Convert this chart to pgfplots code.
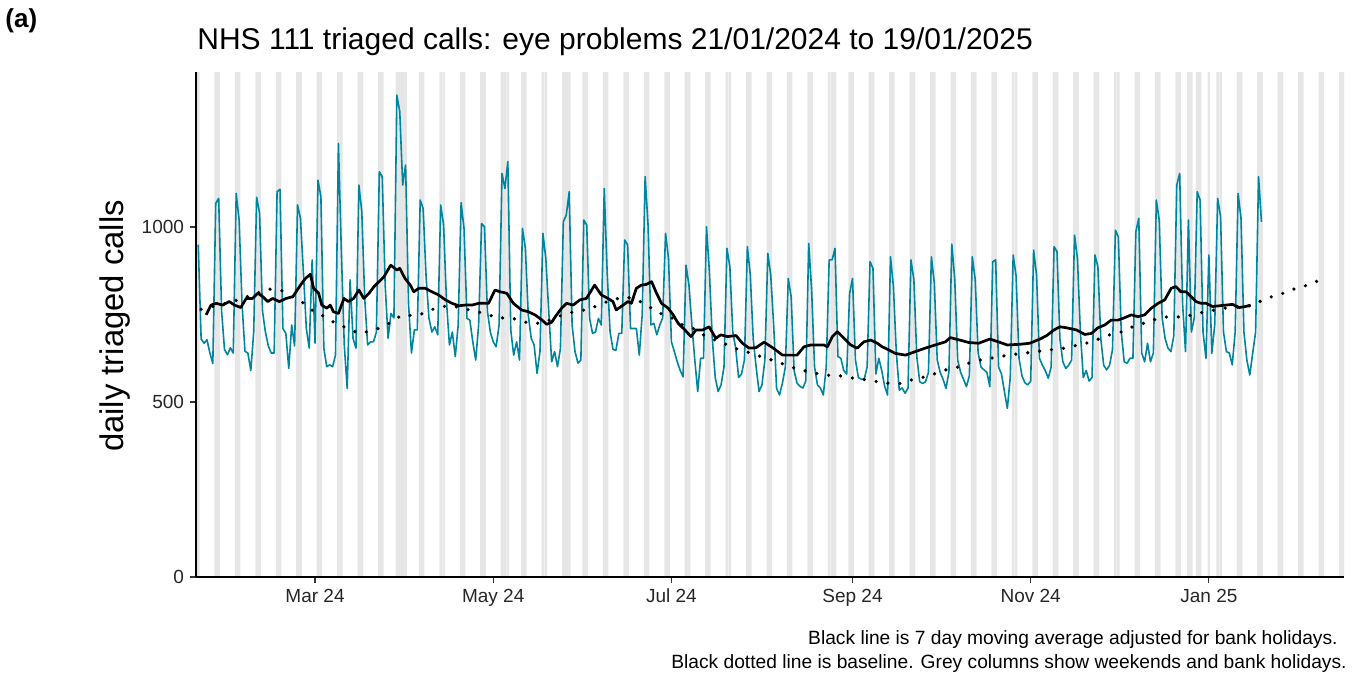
\documentclass[border=0pt]{standalone}
\usepackage{fontspec}
\setmainfont{Liberation Sans}
\usepackage{pgfplots}
\usepackage{pgfplotstable}
\pgfplotsset{compat=1.18}
\definecolor{tealline}{RGB}{0,133,158}
\definecolor{wkgrey}{RGB}{230,230,230}

\pgfplotstableread{
d v
20 950
21 680
22 668
23 678
24 640
25 610
26 1068
27 1082
28 760
29 650
30 635
31 655
32 640
33 1096
34 1020
35 780
36 645
37 640
38 590
39 700
40 1085
41 1040
42 760
43 700
44 660
45 640
46 640
47 1101
48 1108
49 710
50 696
51 596
52 720
53 660
54 1063
55 1025
56 872
57 711
58 654
59 906
60 668
61 1134
62 1087
63 654
64 601
65 606
66 601
67 634
68 1239
69 930
70 663
71 539
72 849
73 682
74 654
75 1120
76 1044
77 796
78 663
79 672
80 672
81 700
82 1158
83 1144
84 834
85 682
86 753
87 740
88 1377
89 1330
90 1120
91 1177
92 780
93 640
94 706
95 706
96 1077
97 1053
98 860
99 739
100 700
101 715
102 692
103 1063
104 1006
105 787
106 663
107 700
108 630
109 720
110 1070
111 996
112 739
113 734
114 672
115 620
116 720
117 1010
118 1001
119 760
120 700
121 672
122 658
123 720
124 1153
125 1110
126 1187
127 706
128 634
129 672
130 620
131 996
132 939
133 748
134 682
135 663
136 582
137 644
138 982
139 910
140 760
141 615
142 644
143 601
144 653
145 1015
146 1034
147 1101
148 720
149 644
150 611
151 620
152 1020
153 1006
154 739
155 696
156 700
157 739
158 720
159 1110
160 870
161 700
162 650
163 648
164 696
165 696
166 963
167 949
168 710
169 710
170 710
171 634
172 750
173 1144
174 1006
175 720
176 725
177 692
178 720
179 740
180 982
181 910
182 672
183 644
184 615
185 590
186 572
187 891
188 834
189 720
190 620
191 530
192 625
193 625
194 1001
195 872
196 680
197 570
198 530
199 549
200 600
201 939
202 887
203 700
204 654
205 570
206 580
207 620
208 944
209 863
210 680
211 600
212 530
213 549
214 620
215 925
216 863
217 720
218 539
219 520
220 554
221 600
222 853
223 800
224 590
225 554
226 545
227 540
228 560
229 953
230 820
231 600
232 549
233 540
234 520
235 600
236 906
237 906
238 939
239 630
240 625
241 590
242 580
243 810
244 853
245 620
246 570
247 565
248 565
249 600
250 901
251 882
252 580
253 625
254 590
255 545
256 520
257 915
258 830
259 640
260 534
261 540
262 525
263 540
264 906
265 850
266 630
267 558
268 553
269 558
270 585
271 915
272 840
273 620
274 585
275 565
276 539
277 585
278 951
279 850
280 620
281 585
282 565
283 544
284 575
285 915
286 850
287 640
288 600
289 592
290 585
291 544
292 901
293 906
294 600
295 580
296 530
297 482
298 570
299 920
300 860
301 625
302 575
303 555
304 549
305 560
306 934
307 863
308 625
309 605
310 590
311 568
312 600
313 944
314 930
315 680
316 615
317 596
318 605
319 620
320 977
321 910
322 700
323 570
324 590
325 560
326 570
327 920
328 887
329 680
330 605
331 592
332 605
333 650
334 991
335 972
336 700
337 615
338 611
339 625
340 625
341 987
342 1025
343 640
344 615
345 668
346 615
347 640
348 1077
349 1020
350 740
351 682
352 654
353 644
354 690
355 1120
356 1153
357 780
358 644
359 1020
360 700
361 740
362 1101
363 1077
364 700
365 625
366 920
367 639
368 720
369 1082
370 1030
371 700
372 644
373 640
374 606
375 700
376 1096
377 1025
378 700
379 620
380 577
381 640
382 700
383 1144
384 1015
}\calls

\pgfplotstableread{
d v
22.7 749
24.4 777
26.1 782
28.4 777
30.6 787
32.4 777
34.6 770
36.4 796
38.6 796
40.4 811
42.1 801
43.8 787
45.5 796
47.8 787
50.1 796
52.4 801
55.0 834
56.7 853
58.4 865
59.5 825
61.2 811
62.3 777
64.0 768
65.2 777
66.3 758
68.0 753
69.9 796
71.4 787
73.2 796
75.0 820
76.7 796
78.5 811
80.2 830
81.9 844
83.6 858
85.9 891
88.0 877
89.0 882
90.8 853
92.6 834
93.8 815
95.5 825
97.7 825
100.0 815
102.3 806
104.6 792
106.9 782
109.2 775
111.4 777
113.7 777
116.0 782
119.4 782
121.6 820
123.3 815
125.6 811
127.9 782
130.7 763
133.0 758
135.3 749
137.6 735
139.3 722
141.0 728
142.7 749
144.4 768
146.1 782
148.4 777
150.7 792
152.9 796
155.7 834
158.0 806
160.3 796
162.0 787
163.1 763
164.8 773
167.1 787
168.3 782
170.0 825
171.7 834
173.4 836
175.2 844
176.9 811
178.6 782
180.9 768
182.6 749
184.3 725
186.6 706
188.7 687
190.4 706
192.7 706
194.9 715
197.2 682
198.9 692
201.2 687
204.1 690
206.3 668
208.6 654
210.9 655
213.7 671
216.7 655
220.0 634
222.8 634
225.0 634
227.4 658
229.7 663
231.9 663
234.2 663
235.4 658
237.1 687
238.8 701
241.1 682
243.4 663
245.6 654
247.9 672
250.2 677
252.5 668
254.1 658
256.4 649
258.6 639
262.1 634
265.5 644
268.9 654
272.3 663
275.8 672
277.5 684
280.3 678
283.8 670
287.2 668
291.0 680
294.6 670
297.0 663
301.3 665
304.7 668
308.2 680
310.5 690
312.8 705
315.0 715
317.3 712
320.7 706
323.5 693
325.8 696
328.0 712
330.3 720
332.6 734
334.9 734
337.2 741
339.4 749
341.7 744
344.0 749
346.3 768
348.6 782
350.9 792
353.1 825
354.7 830
356.4 815
358.2 815
359.9 801
361.6 787
363.3 782
365.0 782
367.3 773
369.6 775
371.8 777
374.1 779
376.4 770
378.6 773
380.3 777
}\movavg

\pgfplotstableread{
d v
21 765
26 775
31.8 787
36.1 799
40.1 811
44.1 823
48.6 818
52.5 800
56.2 782
59.6 758
63.3 744
67.0 725
71.0 711
75.0 696
79.2 703
83.3 715
87.0 732
89.7 749
93.5 747
97.2 753
101.1 768
105.4 775
110.0 770
114.0 760
118.4 753
122.6 739
126.3 742
130.2 733
134.2 723
138.0 727
142.0 740
145.7 752
149.9 760
153.9 765
157.7 780
161.9 792
166.1 801
170.2 792
173.9 775
177.6 755
181.5 744
185.3 722
189.3 711
193.3 690
197.5 675
201.3 663
205.2 649
209.6 639
213.4 627
217.8 617
221.9 603
226.0 592
230.2 585
234.5 576
238.5 577
242.5 570
246.8 566
251.1 560
255.4 554
259.8 552
264.1 563
268.4 571
272.6 582
276.7 594
280.9 601
284.9 615
289.4 623
293.6 628
297.9 635
302.3 639
306.8 644
311.0 649
315.4 652
319.7 660
324.0 668
328.0 679
332.3 693
336.4 701
340.6 718
344.6 727
348.6 739
352.9 745
357.3 742
361.0 751
366.0 760
370.9 768
375.5 771
380.3 775
383.9 789
387.8 802
392.0 812
396.1 826
400.3 835
404.3 850
}\baseline

\begin{document}
\begin{tikzpicture}
\begin{axis}[
  scale only axis, width=574pt, height=252.5pt,
  xmin=19.24, xmax=412.26, ymin=0, ymax=1443,
  axis x line*=bottom, axis y line*=left,
  axis line style={-, line width=1pt, black},
  axis on top,
  xtick={60,121,182,244,305,366},
  xticklabels={Mar 24,May 24,Jul 24,Sep 24,Nov 24,Jan 25},
  ytick={0,500,1000},
  yticklabels={0,500,1000},
  tick align=outside, major tick length=2.8pt,
  tick style={black!80, line width=0.6pt},
  ticklabel style={font=\fontsize{9.5}{11}\selectfont, text=black!85},
  yticklabel style={anchor=east, inner sep=0pt, xshift=-3pt},
  xticklabel style={anchor=north, inner sep=0pt, yshift=-3pt},
  clip=true,
]
\addplot[ybar, bar width=0.9, fill=wkgrey, draw=none] coordinates {
(19,1500) (20,1500) (26,1500) (27,1500) (33,1500) (34,1500) (40,1500) (41,1500)
(47,1500) (48,1500) (54,1500) (55,1500) (61,1500) (62,1500) (68,1500) (69,1500)
(75,1500) (76,1500) (82,1500) (83,1500) (88,1500) (89,1500) (90,1500) (91,1500)
(96,1500) (97,1500) (103,1500) (104,1500) (110,1500) (111,1500) (117,1500) (118,1500)
(124,1500) (125,1500) (126,1500) (131,1500) (132,1500) (138,1500) (139,1500)
(145,1500) (146,1500) (147,1500) (152,1500) (153,1500) (159,1500) (160,1500)
(166,1500) (167,1500) (173,1500) (174,1500) (180,1500) (181,1500) (187,1500) (188,1500)
(194,1500) (195,1500) (201,1500) (202,1500) (208,1500) (209,1500) (215,1500) (216,1500)
(222,1500) (223,1500) (229,1500) (230,1500) (236,1500) (237,1500) (238,1500)
(243,1500) (244,1500) (250,1500) (251,1500) (257,1500) (258,1500) (264,1500) (265,1500)
(271,1500) (272,1500) (278,1500) (279,1500) (285,1500) (286,1500) (292,1500) (293,1500)
(299,1500) (300,1500) (306,1500) (307,1500) (313,1500) (314,1500) (320,1500) (321,1500)
(327,1500) (328,1500) (334,1500) (335,1500) (341,1500) (342,1500) (348,1500) (349,1500)
(355,1500) (356,1500) (359,1500) (360,1500) (362,1500) (363,1500) (366,1500)
(369,1500) (370,1500) (376,1500) (377,1500) (383,1500) (384,1500) (390,1500) (391,1500)
(397,1500) (398,1500) (404,1500) (405,1500) (411,1500) (412,1500)
};
\addplot[tealline, line width=0.8pt, line join=round] table[x=d, y=v] {\calls};
\addplot[black, line width=1.35pt, line join=round] table[x=d, y=v] {\movavg};
\addplot[black, line width=1.8pt, line cap=round, dash pattern=on 0pt off 6pt] table[x=d, y=v] {\baseline};
\coordinate (O) at (rel axis cs:0,0);
\end{axis}
\begin{scope}[shift={(O)}, x=1pt, y=1pt]
\useasboundingbox (-98,-52) rectangle (581.5,288.5);
\node[anchor=base west, inner sep=0pt, font=\bfseries\fontsize{13}{15}\selectfont] at (-95.5,274.8) {(a)};
\node[anchor=base west, inner sep=0pt, font=\fontsize{15}{17}\selectfont] at (0.5,263.5) {NHS 111 triaged calls: eye problems 21/01/2024 to 19/01/2025};
\node[rotate=90, font=\fontsize{16.4}{19}\selectfont] at (-40.5,125.5) {daily triaged calls};
\node[anchor=base east, inner sep=0pt, font=\fontsize{9.6}{11}\selectfont] at (571,-33.5) {Black line is 7 day moving average adjusted for bank holidays.};
\node[anchor=base east, inner sep=0pt, font=\fontsize{9.6}{11}\selectfont] at (575.5,-45.5) {Black dotted line is baseline. Grey columns show weekends and bank holidays.};
\end{scope}
\end{tikzpicture}
\end{document}
